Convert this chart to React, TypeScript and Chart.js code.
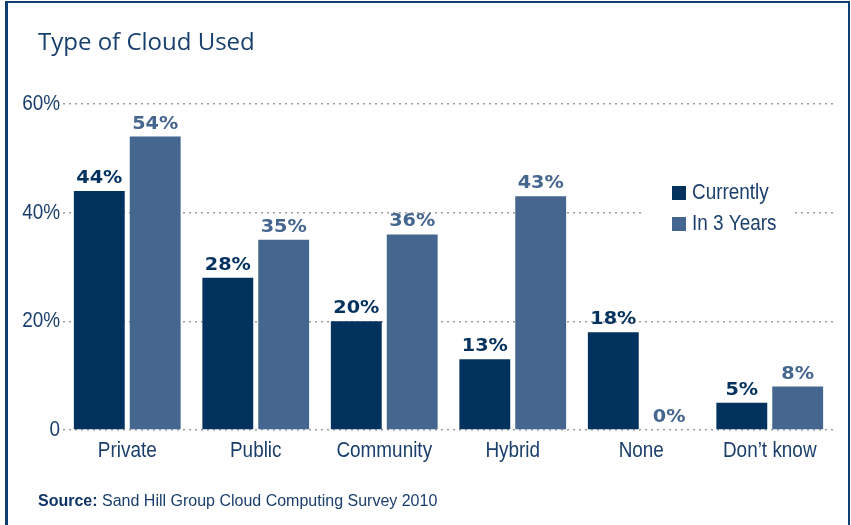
import React, { useEffect, useRef } from "react";
import { Chart, registerables } from "chart.js";

Chart.register(...registerables);

const TITLE = "Type of Cloud Used";
const SOURCE_BOLD = "Source:";
const SOURCE_TEXT = " Sand Hill Group Cloud Computing Survey 2010";
const categories = ["Private", "Public", "Community", "Hybrid", "None", "Don\u2019t know"];
const seriesNames = ["Currently", "In 3 Years"];
const currently = [44, 28, 20, 13, 18, 5];
const inThreeYears = [54, 35, 36, 43, 0, 8];
const yTicks = [0, 20, 40, 60];

const DARK = "#03325f";
const LIGHT = "#44668f";
const TEXT = "#1b3f6d";
const BASE = "'Liberation Sans', Arial, sans-serif";

function scaledText(ctx: any, text: string, x: number, y: number, align: string, sx: number) {
  ctx.save();
  ctx.translate(x, y);
  ctx.scale(sx, 1);
  ctx.textAlign = align;
  ctx.fillText(text, 0, 0);
  ctx.restore();
}

const decorPlugin = {
  id: "decor",
  afterDatasetsDraw(chart: any) {
    const ctx = chart.ctx;
    ctx.save();
    // data labels
    ctx.font = "bold 18px 'DejaVu Sans', sans-serif";
    ctx.textBaseline = "alphabetic";
    chart.data.datasets.forEach((ds: any, di: number) => {
      const meta = chart.getDatasetMeta(di);
      ctx.fillStyle = ds.labelColor;
      meta.data.forEach((el: any, i: number) => {
        scaledText(ctx, ds.data[i] + "%", el.x, el.y - 8, "center", 1.07);
      });
    });
    // axis tick labels (condensed)
    ctx.font = "22px " + BASE;
    ctx.fillStyle = TEXT;
    ctx.textBaseline = "middle";
    const xs = chart.scales.x;
    const ys = chart.scales.y;
    chart.data.labels.forEach((lab: string, i: number) => {
      scaledText(ctx, lab, xs.getPixelForValue(i), 451, "center", 0.86);
    });
    yTicks.forEach((v) => {
      scaledText(ctx, v === 0 ? "0" : v + "%", ys.right - 3, ys.getPixelForValue(v), "right", 0.86);
    });
    // legend
    ctx.fillStyle = "#ffffff";
    ctx.fillRect(645, 178, 150, 60);
    const colors = [DARK, LIGHT];
    seriesNames.forEach((name, i) => {
      const cy = 193 + i * 31;
      ctx.fillStyle = colors[i];
      ctx.fillRect(672, cy - 7, 14, 14);
      ctx.fillStyle = TEXT;
      scaledText(ctx, name, 692, cy, "left", 0.86);
    });
    // title
    ctx.textAlign = "left";
    ctx.textBaseline = "alphabetic";
    ctx.fillStyle = "#17406f";
    ctx.font = "24px 'Open Sans', sans-serif";
    ctx.fillText(TITLE, 38, 50);
    // source
    ctx.font = "bold 16px " + BASE;
    ctx.fillStyle = "#0f3566";
    ctx.fillText(SOURCE_BOLD, 38, 506);
    const w = ctx.measureText(SOURCE_BOLD).width;
    ctx.font = "16px " + BASE;
    ctx.fillStyle = TEXT;
    ctx.fillText(SOURCE_TEXT, 38 + w, 506);
    ctx.restore();
  },
};

export default function App() {
  const ref = useRef<HTMLCanvasElement>(null);
  useEffect(() => {
    document.body.style.margin = "0";
    const chart = new Chart(ref.current!, {
      type: "bar",
      data: {
        labels: categories,
        datasets: [
          { label: seriesNames[0], data: currently, backgroundColor: DARK, labelColor: DARK } as any,
          { label: seriesNames[1], data: inThreeYears, backgroundColor: LIGHT, labelColor: LIGHT } as any,
        ],
      },
      options: {
        animation: false,
        responsive: false,
        devicePixelRatio: 1,
        layout: { padding: { top: 104, bottom: 55, left: 0, right: 17 } },
        plugins: { legend: { display: false }, tooltip: { enabled: false }, title: { display: false } },
        datasets: { bar: { categoryPercentage: 0.87, barPercentage: 0.91 } },
        scales: {
          x: {
            grid: { display: false, drawTicks: false },
            border: { display: false },
            ticks: { display: false },
            afterFit: (s: any) => { s.height = 40; },
          },
          y: {
            min: 0,
            max: 60,
            afterBuildTicks: (s: any) => { s.ticks = yTicks.map((v) => ({ value: v })); },
            grid: { color: "#9c9c9c", lineWidth: 1.5, drawTicks: false },
            border: { display: false, dash: [2, 4] },
            ticks: { display: false },
            afterFit: (s: any) => { s.width = 63; },
          },
        },
      },
      plugins: [decorPlugin],
    });
    return () => chart.destroy();
  }, []);
  return (
    <div style={{ position: "fixed", left: 0, top: 0, width: 851, height: 525, background: "#fff", overflow: "hidden" }}>
      <canvas ref={ref} width={851} height={525} style={{ position: "absolute", left: 0, top: 0 }} />
      <div
        style={{
          position: "absolute",
          left: 5,
          top: 1,
          right: 1,
          bottom: -10,
          borderTop: "2px solid #0d3f73",
          borderLeft: "3px solid #0d3f73",
          borderRight: "2px solid #0d3f73",
          pointerEvents: "none",
        }}
      />
    </div>
  );
}
